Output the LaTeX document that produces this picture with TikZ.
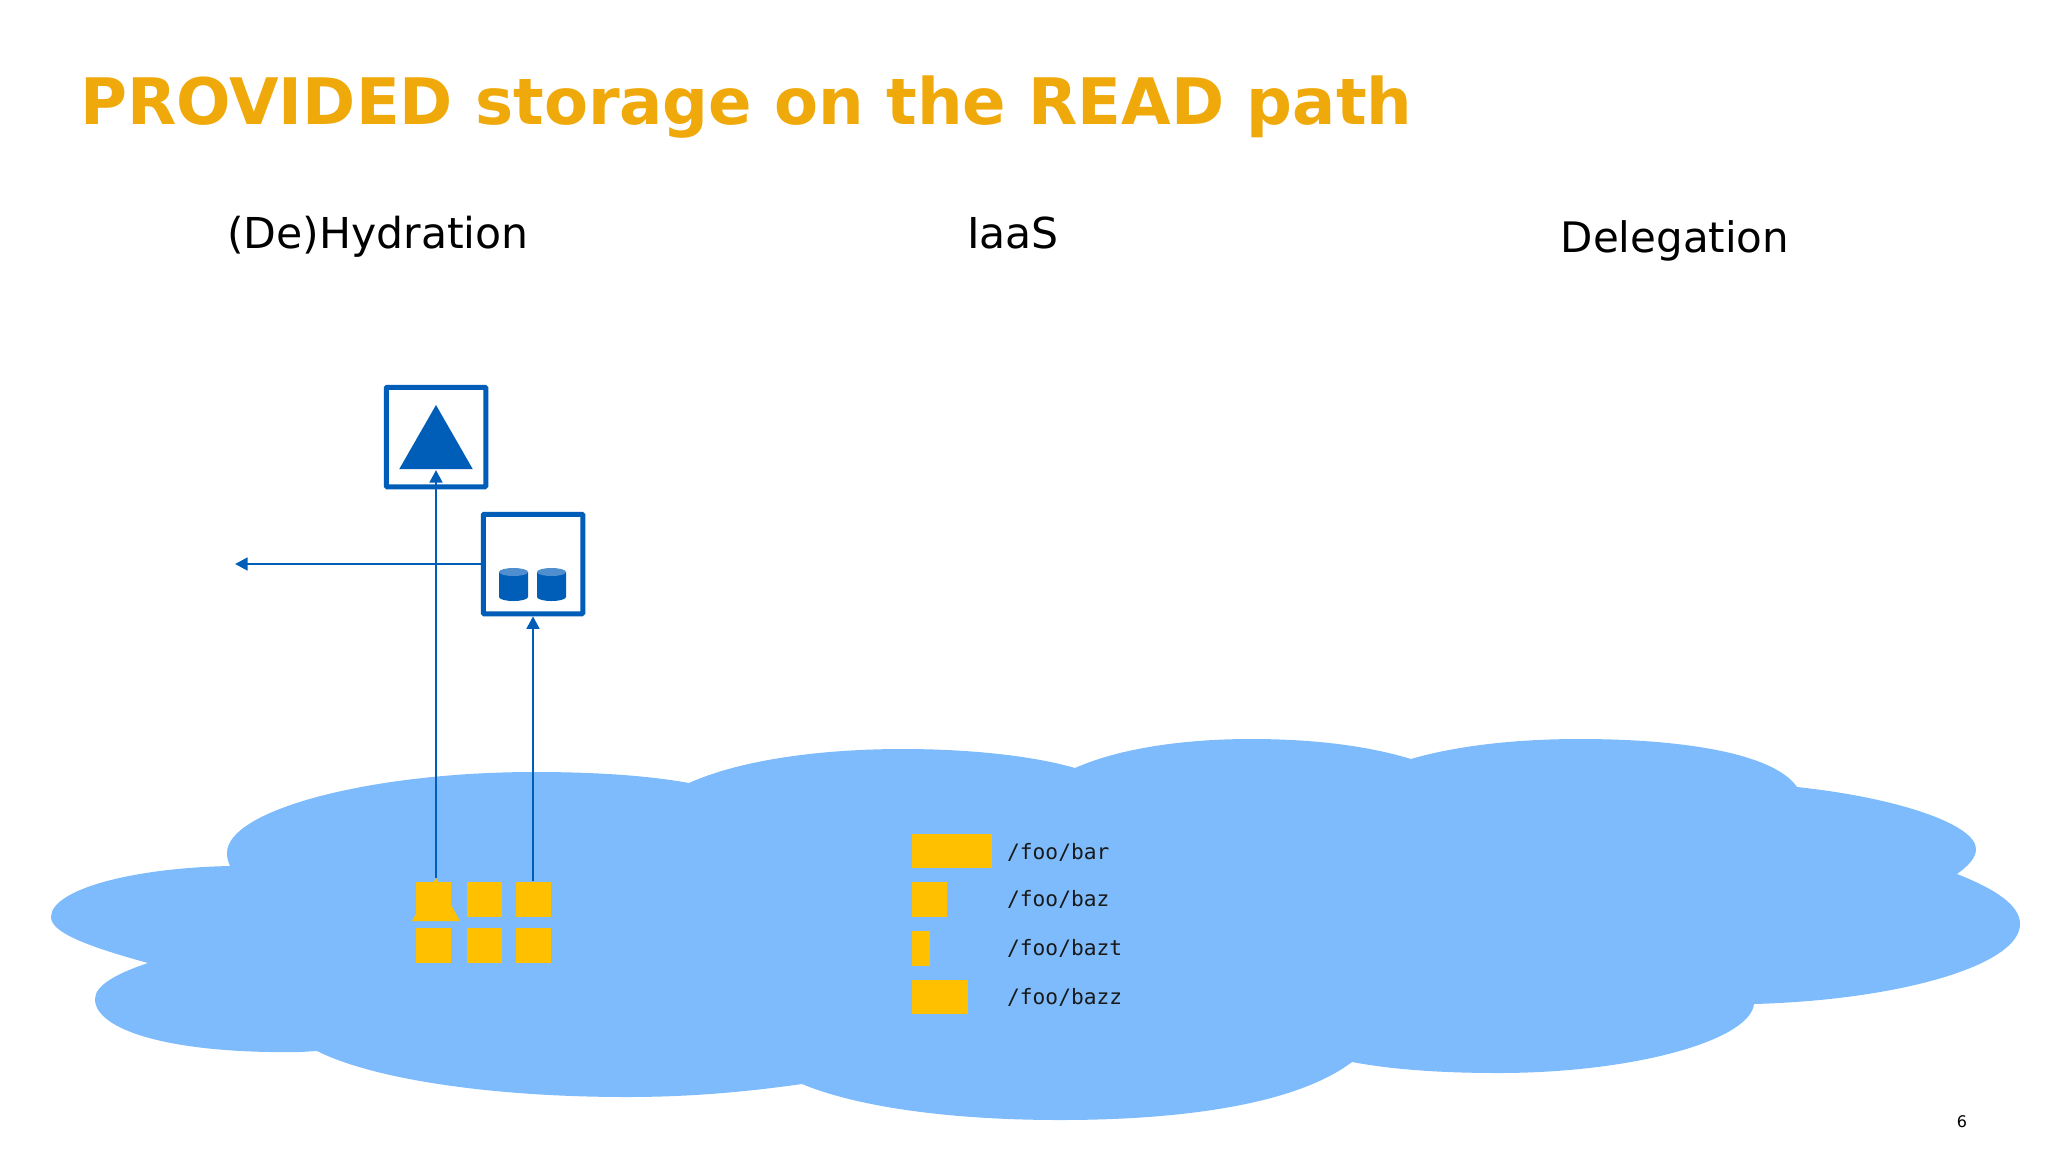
\documentclass[tikz,border=0pt]{standalone}
\usepackage{fontspec}
\setmainfont{DejaVu Sans}
\setmonofont{DejaVu Sans Mono}
\definecolor{cloudblue}{HTML}{7DBBFC}
\definecolor{darkblue}{HTML}{005EB8}
\definecolor{midblue}{HTML}{4F8FCF}
\definecolor{amber}{HTML}{FFC000}
\definecolor{titlec}{HTML}{F0A90A}
\usetikzlibrary{arrows.meta}
\tikzset{
  box/.style={draw=darkblue,line width=5pt,fill=white,minimum size=99.5pt,inner sep=0pt,rounded corners=1pt},
  sq/.style={fill=amber,inner sep=0pt,minimum width=35pt,minimum height=35pt},
  bar/.style={fill=amber,inner sep=0pt,anchor=west,minimum height=34.5pt},
  path/.style={anchor=base west,inner sep=0pt,font=\ttfamily\fontsize{21.2pt}{24pt}\selectfont,text=black!90},
  head/.style={anchor=base,inner sep=0pt,font=\fontsize{42.6pt}{50pt}\selectfont,text=black},
  link/.style={draw=darkblue,line width=2.8pt,-{Triangle[length=12.5pt,width=12.5pt]}}
}
\begin{document}
\begin{tikzpicture}[x=1pt,y=-1pt]
\useasboundingbox[fill=white] (0,0) rectangle (2048,1152);
% cloud
\fill[cloudblue] (689,783)
 .. controls (740,760) and (820,749) .. (903,749)
 .. controls (965,749) and (1030,755) .. (1075,768)
 .. controls (1120,748) and (1185,739) .. (1251,739)
 .. controls (1310,739) and (1365,745) .. (1411,759)
 .. controls (1455,746) and (1515,739) .. (1579,739)
 .. controls (1690,739) and (1775,755) .. (1797,787)
 .. controls (1900,798) and (1976,825) .. (1976,849)
 .. controls (1976,858) and (1968,866) .. (1957,874)
 .. controls (1995,889) and (2020,905) .. (2020,924)
 .. controls (2020,965) and (1900,1000) .. (1754,1004)
 .. controls (1750,1040) and (1635,1073) .. (1498,1073)
 .. controls (1445,1073) and (1395,1070) .. (1352,1062)
 .. controls (1295,1105) and (1180,1120) .. (1060,1120)
 .. controls (955,1120) and (860,1108) .. (802,1084)
 .. controls (745,1092) and (690,1097) .. (627,1097)
 .. controls (495,1097) and (375,1080) .. (317,1051)
 -- (300,1052)
 .. controls (170,1054) and (95,1030) .. (95,999)
 .. controls (95,985) and (118,973) .. (148,963)
 .. controls (90,947) and (51,933) .. (51,917)
 .. controls (51,890) and (130,868) .. (230,866)
 .. controls (228,862) and (227,857) .. (227,853)
 .. controls (227,810) and (370,772) .. (535,772)
 .. controls (590,772) and (645,775) .. (689,783) -- cycle;
% title and headings
\node[anchor=base west,inner sep=0pt,font=\bfseries\fontsize{64.1pt}{72pt}\selectfont,text=titlec] (title) at (80,124) {PROVIDED storage on the READ path};
\node[head] (h1) at (378,248) {(De)Hydration};
\node[head] (h2) at (1013,248) {IaaS};
\node[head,font=\fontsize{42pt}{50pt}\selectfont] (h3) at (1675,252) {Delegation};
% yellow blocks
\coordinate (apex) at (436,878);
\fill[amber] (apex) -- (460,921) -- (412,921) -- cycle;
\node[sq] (s11) at (433.5,899) {};
\node[sq] (s12) at (484,899) {};
\node[sq] (s13) at (533,899) {};
\node[sq] (s21) at (433.5,945.5) {};
\node[sq] (s22) at (484,945.5) {};
\node[sq] (s23) at (533,945.5) {};
% boxes
\node[box] (b1) at (436,437) {};
\node[box] (b2) at (533,564) {};
% triangle
\coordinate (tribase) at (436,470);
\fill[darkblue] (436,405) -- (472.7,469) -- (399.3,469) -- cycle;
% cylinders
\foreach \cx in {513.5,551.5}{
  \fill[darkblue] (\cx-14.5,572) -- (\cx-14.5,597) arc[start angle=180,end angle=360,x radius=14.5,y radius=-4] -- (\cx+14.5,572) -- cycle;
  \fill[midblue] (\cx,572) ellipse[x radius=14.5,y radius=4];
}
% connectors
\coordinate (out) at (235,564);
\draw[link] (apex) -- (tribase);
\draw[link] (s13.north) -- (b2.south);
\draw[link] (b2.west) -- (out);
% bars and paths
\node[bar,minimum width=80pt] (r1) at (912,851) {};
\node[bar,minimum width=35pt] (r2) at (912,899.5) {};
\node[bar,minimum width=18pt] (r3) at (912,948.5) {};
\node[bar,minimum width=56pt] (r4) at (912,997) {};
\node[path] (p1) at (1007,859) {/foo/bar};
\node[path] (p2) at (1007,906) {/foo/baz};
\node[path] (p3) at (1007,955.5) {/foo/bazt};
\node[path] (p4) at (1007,1004) {/foo/bazz};
\node[anchor=base,inner sep=0pt,font=\fontsize{16pt}{18pt}\selectfont] (pg) at (1962,1127) {6};
\end{tikzpicture}
\end{document}
